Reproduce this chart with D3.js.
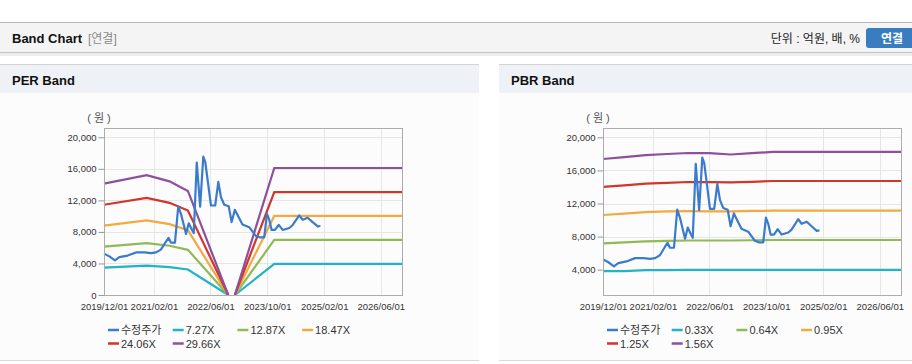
<!DOCTYPE html>
<html lang="ko">
<head>
<meta charset="UTF-8">
<title>Band Chart</title>
<script src="https://cdn.jsdelivr.net/npm/d3@7"></script>
<style>
  body { margin: 0; background: #fff; }
  svg { display: block; font-family: "Liberation Sans", Arial, "Noto Sans CJK KR", sans-serif; }
</style>
</head>
<body>
<script>

// 수정주가 (PER / PBR 공통)
var priceDates = ["2019-12-02","2020-01-16","2020-03-04","2020-04-10","2020-06-20","2020-09-01","2020-11-12",
    "2021-01-08","2021-02-20","2021-04-02","2021-05-15","2021-06-07","2021-06-27","2021-08-01","2021-08-29",
    "2021-09-21","2021-11-04","2021-11-27","2021-12-22","2022-01-09","2022-02-04","2022-03-05","2022-04-01",
    "2022-04-18","2022-06-06","2022-07-12","2022-08-08","2022-08-31","2022-09-28","2022-11-05","2022-11-30",
    "2022-12-28","2023-01-27","2023-03-03","2023-04-30","2023-06-26","2023-08-02","2023-09-06","2023-09-29",
    "2023-10-19","2023-11-08","2023-12-07","2024-01-08","2024-02-11","2024-04-08","2024-05-06","2024-07-02",
    "2024-08-01","2024-09-13","2024-10-25","2024-12-08","2024-12-31"];
var priceValues = [5250, 4900, 4400, 4800, 5000, 5400, 5400,
    5300, 5400, 5750, 6750, 7250, 6650, 6650, 11250,
    10300, 7750, 9100, 8350, 7850, 16800, 11200, 17550,
    16850, 11350, 11350, 14350, 12400, 11450, 11250, 9250,
    10800, 9950, 8950, 8600, 7500, 7300, 7300, 10300,
    9550, 8250, 8250, 8900, 8250, 8500, 8850, 10100,
    9550, 9800, 9250, 8700, 8750];

// PER 밴드
var perDates = ["2019-12-01","2020-12-01","2021-06-15","2021-11-20","2022-11-01","2022-12-01","2022-12-28","2023-12-01","2026-12-01"];
var per727  = [3460, 3720, 3530, 3240, 0, null, 0, 3950, 3950];
var per1287 = [6130, 6590, 6250, 5730, 0, null, 0, 6990, 6990];
var per1847 = [8790, 9460, 8980, 8220, 0, null, 0, 10030, 10030];
var per2406 = [11450, 12320, 11690, 10710, 0, null, 0, 13060, 13060];
var per2966 = [14120, 15190, 14410, 13200, 0, null, 0, 16110, 16110];
var perLabels = ["수정주가", "7.27X", "12.87X", "18.47X", "24.06X", "29.66X"];
var perTicks = [0, 4000, 8000, 12000, 16000, 20000];

// PBR 밴드
var pbrDates = ["2019-12-01","2020-06-01","2020-12-01","2021-06-01","2021-12-01","2022-06-01","2022-12-01","2023-06-01","2023-12-01","2026-12-01"];
var pbr033 = [3820, 3830, 3940, 3960, 3970, 3970, 3970, 3980, 3990, 3990];
var pbr064 = [7190, 7300, 7420, 7490, 7530, 7530, 7530, 7560, 7590, 7590];
var pbr095 = [10610, 10780, 10960, 11050, 11080, 11060, 11060, 11100, 11130, 11130];
var pbr125 = [14000, 14200, 14400, 14500, 14600, 14580, 14550, 14620, 14720, 14720];
var pbr156 = [17380, 17600, 17850, 17980, 18100, 18080, 17920, 18080, 18250, 18250];
var pbrLabels = ["수정주가", "0.33X", "0.64X", "0.95X", "1.25X", "1.56X"];
var pbrTicks = [4000, 8000, 12000, 16000, 20000];

var xTicks = ["2019-12-01","2021-02-01","2022-06-01","2023-10-01","2025-02-01","2026-06-01"];
var colors = ["#3a7bcd", "#22b3c6", "#8fba55", "#f3a940", "#d2352b", "#8e4f9c"];

var parse = d3.timeParse("%Y-%m-%d");

var svg = d3.select("body").append("svg")
    .attr("width", 912)
    .attr("height", 364);

// 상단 헤더
svg.append("rect").attr("x", 0).attr("y", 22).attr("width", 912).attr("height", 31).attr("fill", "#f4f4f4");
svg.append("line").attr("x1", 0).attr("x2", 912).attr("y1", 22.5).attr("y2", 22.5).attr("stroke", "#b8b8b8");
svg.append("rect").attr("x", 0).attr("y", 53).attr("width", 912).attr("height", 3).attr("fill", "#ededed");
svg.append("line").attr("x1", 0).attr("x2", 912).attr("y1", 52.5).attr("y2", 52.5).attr("stroke", "#c4c4c4");

svg.append("text").attr("x", 12).attr("y", 43)
    .style("font-size", "13px").style("font-weight", "bold").attr("fill", "#111")
    .text("Band Chart");
svg.append("text").attr("x", 88).attr("y", 43)
    .style("font-size", "12px").attr("fill", "#8a8a8a")
    .text("[연결]");
svg.append("text").attr("x", 860).attr("y", 43).attr("text-anchor", "end")
    .style("font-size", "12px").attr("fill", "#222")
    .text("단위 : 억원, 배, %");
svg.append("rect").attr("x", 866).attr("y", 28).attr("width", 54).attr("height", 20).attr("rx", 3)
    .attr("fill", "#3a7cc0");
svg.append("text").attr("x", 892).attr("y", 42.5).attr("text-anchor", "middle")
    .style("font-size", "12px").style("font-weight", "bold").attr("fill", "#fff")
    .text("연결");

function drawPanel(px, pw, title, dates, bands, labels, yTicks, yDomain, plotLeft) {
    var g = svg.append("g");

    // 패널 배경
    g.append("rect").attr("x", px).attr("y", 64).attr("width", pw).attr("height", 296).attr("fill", "#fcfcfc");
    g.append("rect").attr("x", px).attr("y", 64).attr("width", pw).attr("height", 29).attr("fill", "#eef2f7");
    g.append("line").attr("x1", px).attr("x2", px + pw).attr("y1", 64.5).attr("y2", 64.5).attr("stroke", "#d4d4d4");
    g.append("line").attr("x1", px).attr("x2", px + pw).attr("y1", 360.5).attr("y2", 360.5).attr("stroke", "#d8d8d8");
    g.append("text").attr("x", px + 12).attr("y", 85)
        .style("font-size", "13px").style("font-weight", "bold").attr("fill", "#111")
        .text(title);

    var left = plotLeft, right = plotLeft + 298, top = 128, bottom = 295;

    var x = d3.scaleTime()
        .domain([parse("2019-12-01"), parse("2026-12-01")])
        .range([left, right]);
    var y = d3.scaleLinear()
        .domain(yDomain)
        .range([bottom, top]);

    // 그리드
    g.selectAll(".hgrid").data(yTicks).enter().append("line")
        .attr("x1", left).attr("x2", right)
        .attr("y1", function (d) { return Math.round(y(d)) + 0.5; })
        .attr("y2", function (d) { return Math.round(y(d)) + 0.5; })
        .attr("stroke", "#e6e6e6");
    g.selectAll(".vgrid").data(xTicks).enter().append("line")
        .attr("x1", function (d) { return Math.round(x(parse(d))) + 0.5; })
        .attr("x2", function (d) { return Math.round(x(parse(d))) + 0.5; })
        .attr("y1", top).attr("y2", bottom)
        .attr("stroke", "#e6e6e6");

    // 밴드 라인
    var line = d3.line()
        .defined(function (d) { return d.v !== null; })
        .x(function (d) { return x(d.t); })
        .y(function (d) { return y(d.v); });

    bands.forEach(function (vals, i) {
        var pts = dates.map(function (d, j) { return {t: parse(d), v: vals[j]}; });
        g.append("path").datum(pts)
            .attr("d", line)
            .attr("fill", "none")
            .attr("stroke", colors[i + 1])
            .attr("stroke-width", 2.2);
    });

    // 수정주가
    var pricePts = priceDates.map(function (d, j) { return {t: parse(d), v: priceValues[j]}; });
    g.append("path").datum(pricePts)
        .attr("d", line)
        .attr("fill", "none")
        .attr("stroke", colors[0])
        .attr("stroke-width", 2.2)
        .attr("stroke-linejoin", "round");

    // 테두리
    g.append("rect").attr("x", left + 0.5).attr("y", top + 0.5)
        .attr("width", right - left).attr("height", bottom - top)
        .attr("fill", "none").attr("stroke", "#adadad");

    // y축
    var yAxis = d3.axisLeft(y).tickValues(yTicks).tickFormat(d3.format(",")).tickSize(6).tickPadding(2);
    var ya = g.append("g").attr("transform", "translate(" + (left + 0.5) + ",0)").call(yAxis);
    ya.select(".domain").remove();
    ya.selectAll("line").attr("stroke", "#999");
    ya.selectAll("text").style("font-size", "9.5px").attr("fill", "#333").style("font-family", "inherit");

    // x축
    var xAxis = d3.axisBottom(x).tickValues(xTicks.map(parse)).tickFormat(d3.timeFormat("%Y/%m/%d")).tickSize(0).tickPadding(8);
    var xa = g.append("g").attr("transform", "translate(0," + bottom + ")").call(xAxis);
    xa.select(".domain").remove();
    xa.selectAll("text").style("font-size", "9.5px").attr("fill", "#333").style("font-family", "inherit");

    g.append("text").attr("x", left - 5).attr("y", 122).attr("text-anchor", "middle")
        .style("font-size", "11px").attr("fill", "#555")
        .text("( 원 )");

    // 범례
    var lg = g.selectAll(".legend").data(labels).enter().append("g")
        .attr("transform", function (d, i) {
            return "translate(" + (left + 4 + (i % 4) * 64.7) + "," + (330 + Math.floor(i / 4) * 13.5) + ")";
        });
    lg.append("line").attr("x1", 0).attr("x2", 11).attr("y1", 0).attr("y2", 0)
        .attr("stroke", function (d, i) { return colors[i]; })
        .attr("stroke-width", 2.5);
    lg.append("text").attr("x", 13).attr("y", 4)
        .style("font-size", "11px").attr("fill", "#333")
        .text(function (d) { return d; });
}

drawPanel(0, 479, "PER Band", perDates, [per727, per1287, per1847, per2406, per2966], perLabels, perTicks, [0, 21180], 104);
drawPanel(499, 413, "PBR Band", pbrDates, [pbr033, pbr064, pbr095, pbr125, pbr156], pbrLabels, pbrTicks, [943, 21124], 603);

</script>
</body>
</html>
